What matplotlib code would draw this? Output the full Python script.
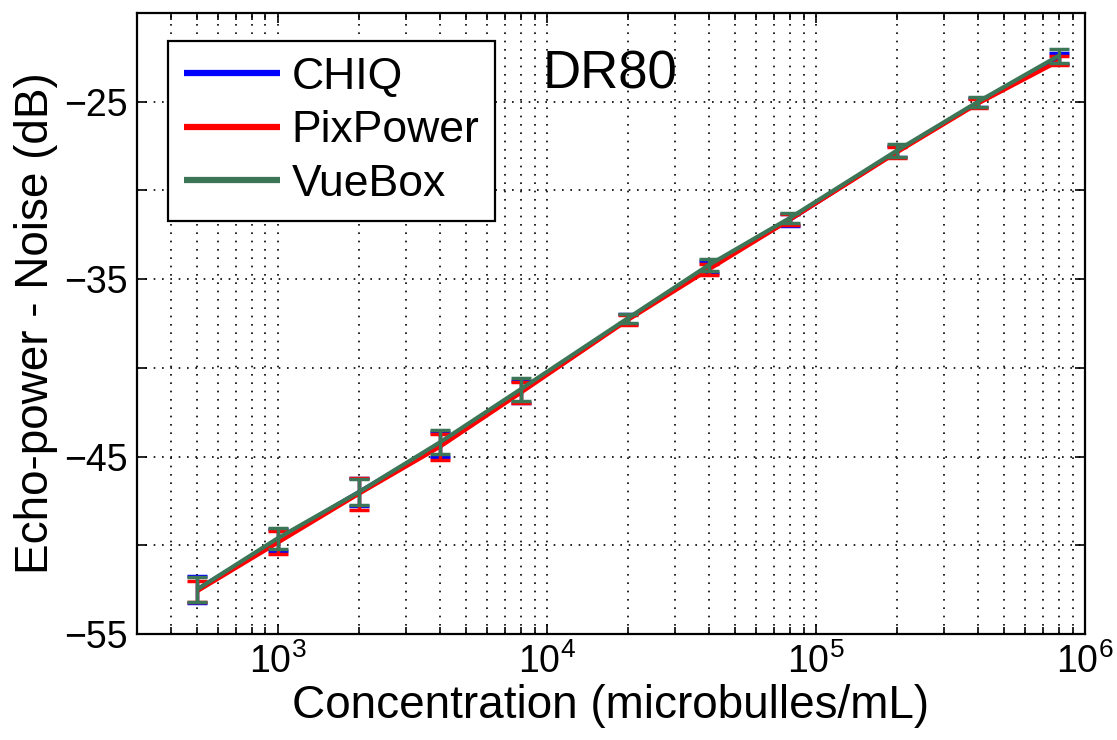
"""DR80 echo-power vs concentration, three software packages."""

import matplotlib

matplotlib.use("Agg")
import matplotlib.pyplot as plt
from matplotlib.ticker import FixedLocator, LogLocator, NullFormatter

plt.rcParams["font.family"] = ["Liberation Sans", "DejaVu Sans"]
plt.rcParams["mathtext.fontset"] = "custom"
plt.rcParams["mathtext.rm"] = "Liberation Sans"

# microbubble concentrations (microbulles/mL)
concentration = [500, 1000, 2000, 4000, 8000, 20000, 40000, 80000, 200000, 400000, 800000]

chiq_mean = [-52.5, -49.7, -47.0, -44.3, -41.35, -37.25, -34.3, -31.65, -27.8, -25.05, -22.55]
chiq_err = [0.75, 0.6, 0.8, 0.7, 0.62, 0.3, 0.33, 0.33, 0.33, 0.25, 0.3]

pixpower_mean = [-52.6, -49.85, -47.1, -44.45, -41.4, -37.3, -34.45, -31.65, -27.85, -25.1, -22.7]
pixpower_err = [0.6, 0.65, 0.9, 0.73, 0.6, 0.28, 0.31, 0.3, 0.3, 0.25, 0.25]

vuebox_mean = [-52.5, -49.6, -47.0, -44.2, -41.2, -37.2, -34.2, -31.55, -27.75, -25.0, -22.4]
vuebox_err = [0.7, 0.6, 0.75, 0.68, 0.65, 0.25, 0.35, 0.28, 0.38, 0.28, 0.4]

series = [
    ("CHIQ", chiq_mean, chiq_err, "#0000ff"),
    ("PixPower", pixpower_mean, pixpower_err, "#ff0000"),
    ("VueBox", vuebox_mean, vuebox_err, "#3d7657"),
]

y_ticks = [-55, -50, -45, -40, -35, -30, -25, -20]
y_tick_labels = ["\u221255", "", "\u221245", "", "\u221235", "", "\u221225", ""]

fig = plt.figure(figsize=(11.17, 7.40), dpi=100)
ax = fig.add_axes([0.1227, 0.1432, 0.8487, 0.8392])

for name, mean, err, color in series:
    ax.plot(concentration, mean, color=color, lw=3, label=name, solid_capstyle="butt")
    ax.errorbar(concentration, mean, yerr=err, fmt="none", ecolor=color,
                elinewidth=2.5, capsize=7, capthick=2.5)

ax.set_xscale("log")
ax.set_xlim(300, 1e6)
ax.set_ylim(-55, -20)
ax.xaxis.set_major_locator(LogLocator(base=10))
ax.xaxis.set_minor_locator(LogLocator(base=10, subs=range(2, 10)))
ax.xaxis.set_minor_formatter(NullFormatter())
ax.yaxis.set_major_locator(FixedLocator(y_ticks))
ax.set_yticklabels(y_tick_labels)

grid_style = dict(color="black", linestyle=(0, (1, 4)), linewidth=1.2)
ax.grid(True, which="major", axis="both", **grid_style)
ax.grid(True, which="minor", axis="x", **grid_style)
ax.set_axisbelow(True)

ax.tick_params(which="both", direction="in", top=True, right=True, width=1.2)
ax.tick_params(which="major", length=7, labelsize=27, pad=7)
ax.tick_params(which="minor", length=5)
for spine in ax.spines.values():
    spine.set_linewidth(1.6)

ax.set_xlabel("Concentration (microbulles/mL)", fontsize=33, labelpad=2)
ax.set_ylabel("Echo-power - Noise (dB)", fontsize=33, labelpad=4)

ax.text(0.428, 0.879, "DR80", transform=ax.transAxes, fontsize=38, va="baseline")

leg = ax.legend(loc="upper left", bbox_to_anchor=(0.0327, 0.955), borderaxespad=0,
                fontsize=32, handlelength=2.15, handletextpad=0.27, labelspacing=0.28,
                borderpad=0.36, fancybox=False, framealpha=1, edgecolor="black")
leg.get_frame().set_linewidth(1.6)
for line in leg.get_lines():
    line.set_linewidth(4.5)

fig.savefig("out.png", dpi=100)
